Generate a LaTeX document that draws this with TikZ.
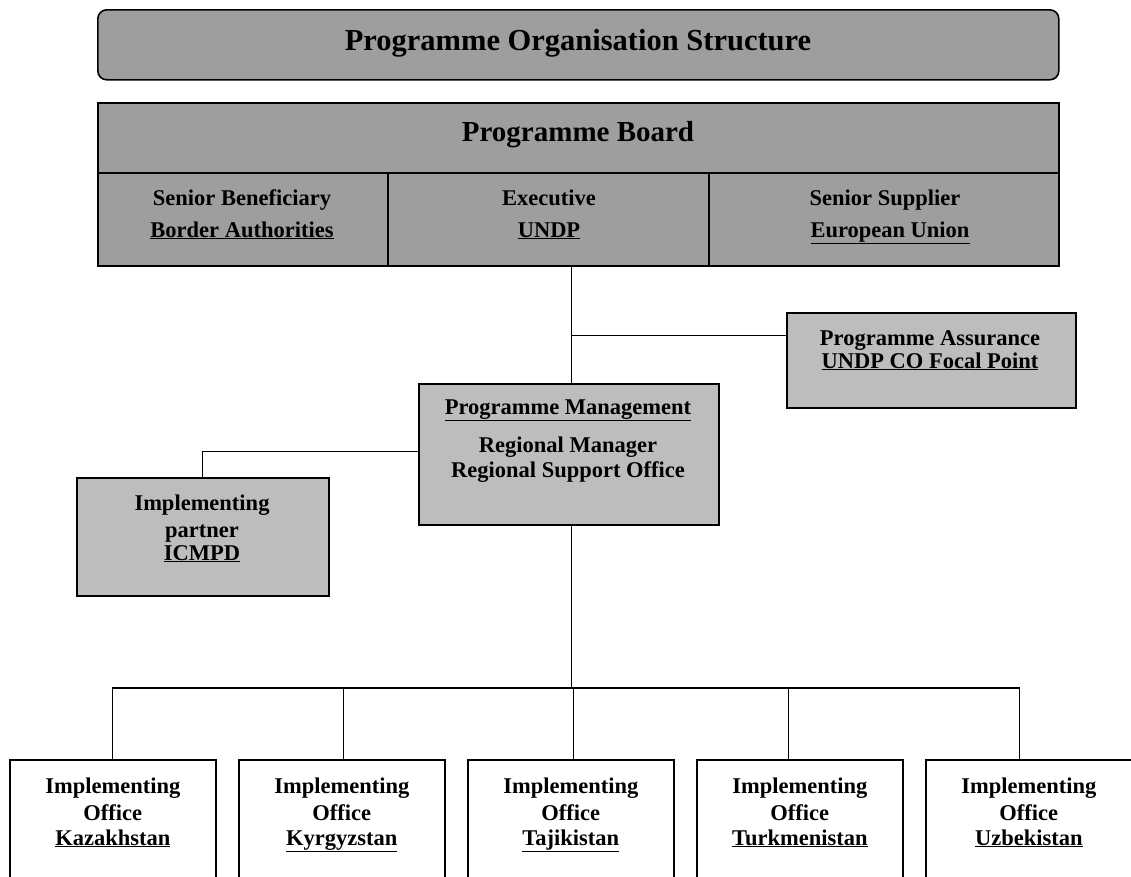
\documentclass[tikz,border=0pt]{standalone}
\usepackage{fontspec}
\setmainfont{Liberation Serif}
\usetikzlibrary{positioning}
\definecolor{boardgray}{gray}{0.62}
\definecolor{boxgray}{gray}{0.74}
\begin{document}
\begin{tikzpicture}[x=1pt,y=-1pt,
    box/.style={draw,line width=1.6pt,inner sep=0pt,anchor=north west},
    conn/.style={line width=1.3pt},
    txt/.style={anchor=base,inner sep=0pt,font=\bfseries\fontsize{22.5}{27}\selectfont}]
  \clip (0,0) rectangle (1131,876);
  % title and board
  \node[box,fill=boardgray,rounded corners=9pt,minimum width=961pt,minimum height=70pt] (title) at (97,9) {};
  \node[txt,font=\bfseries\fontsize{30.5}{36}\selectfont] (titletext) at (578,50) {Programme Organisation Structure};
  \node[box,fill=boardgray,minimum width=961pt,minimum height=70pt] (board) at (97,102) {};
  \node[txt,font=\bfseries\fontsize{29}{34}\selectfont] (boardtext) at (578,141) {Programme Board};
  \node[box,fill=boardgray,minimum width=290pt,minimum height=93pt] (sb) at (97,172) {};
  \node[box,fill=boardgray,minimum width=321pt,minimum height=93pt] (ex) at (387,172) {};
  \node[box,fill=boardgray,minimum width=350pt,minimum height=93pt] (ss) at (708,172) {};
  \node[txt] (sb1) at (242,205) {Senior Beneficiary};
  \node[txt] (sb2) at (242,237) {\underline{Border Authorities}};
  \node[txt] (ex1) at (549,205) {Executive};
  \node[txt] (ex2) at (549,237) {\underline{UNDP}};
  \node[txt] (ss1) at (885,205) {Senior Supplier};
  \node[txt] (ss2) at (890,237) {\underline{European Union}};
  % assurance, management, partner
  \node[box,fill=boxgray,minimum width=289pt,minimum height=95pt] (pa) at (786,312) {};
  \node[txt] (pa1) at (930,345) {Programme Assurance};
  \node[txt] (pa2) at (930,368) {\underline{UNDP CO Focal Point}};
  \node[box,fill=boxgray,minimum width=300pt,minimum height=141pt] (pm) at (418,383) {};
  \node[txt] (pm1) at (568,414) {\underline{Programme Management}};
  \node[txt] (pm2) at (568,452) {Regional Manager};
  \node[txt] (pm3) at (568,477) {Regional Support Office};
  \node[box,fill=boxgray,minimum width=252pt,minimum height=118pt] (ip) at (76,477) {};
  \node[txt] (ip1) at (202,510) {Implementing};
  \node[txt] (ip2) at (202,537) {partner};
  \node[txt] (ip3) at (202,560) {\underline{ICMPD}};
  % offices
  \foreach \name/\x/\country in {kaz/9/Kazakhstan,kyr/238/Kyrgyzstan,taj/467/Tajikistan,tur/696/Turkmenistan,uzb/925/Uzbekistan} {
    \node[box,fill=white,minimum width=206pt,minimum height=140pt] (off-\name) at (\x,759) {};
    \node[txt] (\name-1) at ([yshift=-34pt]off-\name.north) {Implementing};
    \node[txt] (\name-2) at ([yshift=-61pt]off-\name.north) {Office};
    \node[txt] (\name-3) at ([yshift=-86pt]off-\name.north) {\underline{\country}};
  }
  % connectors
  \coordinate (busy) at (0,688);
  \draw[conn] ([xshift=3pt]ex.south -| pm.north) -- ([xshift=3pt]pm.north);
  \draw[conn] ([yshift=24.5pt]pa.west) -- ([yshift=24.5pt,xshift=3pt]pa.west -| pm.north);
  \draw[conn] ([yshift=3pt]pm.west) -| (ip.north);
  \draw[conn] ([xshift=3pt]pm.south) -- ([xshift=3pt]pm.south |- busy);
  \foreach \name/\dx in {kaz/0,kyr/2,taj/3,tur/-11,uzb/-9}
    \draw[conn] ([xshift=3pt]pm.south |- busy) -| ([xshift=\dx pt]off-\name.north);
\end{tikzpicture}
\end{document}
